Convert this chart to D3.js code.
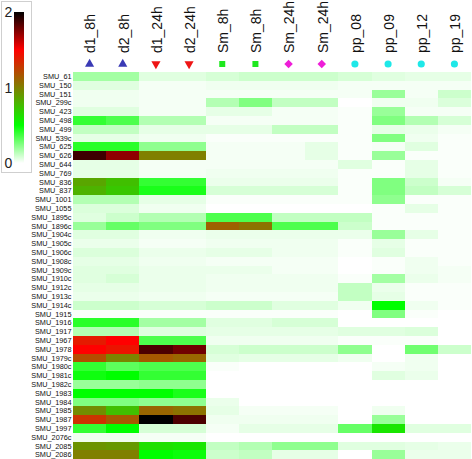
<!DOCTYPE html>
<html>
<head>
<meta charset="utf-8">
<script src="https://cdn.jsdelivr.net/npm/d3@7"></script>
<style>
  html, body { margin: 0; padding: 0; background: #fff; }
  svg { display: block; }
  text { font-family: "Liberation Sans", Arial, sans-serif; }
</style>
</head>
<body>
<svg id="chart" width="472" height="459"></svg>
<script>
// ---- data ----
const columns = ["d1_8h", "d2_8h", "d1_24h", "d2_24h", "Sm_8h", "Sm_8h", "Sm_24h", "Sm_24h", "pp_08", "pp_09", "pp_12", "pp_19"];
const groups = ["d8", "d8", "d24", "d24", "sm8", "sm8", "sm24", "sm24", "pp", "pp", "pp", "pp"];
const rows = ["SMU_61", "SMU_150", "SMU_151", "SMU_299c", "SMU_423", "SMU_498", "SMU_499", "SMU_539c", "SMU_625", "SMU_626",
  "SMU_644", "SMU_769", "SMU_836", "SMU_837", "SMU_1001", "SMU_1055", "SMU_1895c", "SMU_1896c", "SMU_1904c", "SMU_1905c",
  "SMU_1906c", "SMU_1908c", "SMU_1909c", "SMU_1910c", "SMU_1912c", "SMU_1913c", "SMU_1914c", "SMU_1915", "SMU_1916", "SMU_1917",
  "SMU_1967", "SMU_1978", "SMU_1979c", "SMU_1980c", "SMU_1981c", "SMU_1982c", "SMU_1983", "SMU_1984", "SMU_1985", "SMU_1987",
  "SMU_1997", "SMU_2076c", "SMU_2085", "SMU_2086"];
// one row of 12 values per gene, in column order
const values = [
  [0.18, 0.18, 0.06, 0.06, 0.08, 0.10, 0.10, 0.10, 0.08, 0.06, 0.05, 0.05],
  [0.06, 0.06, 0.02, 0.02, 0.03, 0.03, 0.03, 0.03, 0.02, 0.02, 0.02, 0.02],
  [0.03, 0.03, 0.02, 0.02, 0.02, 0.02, 0.02, 0.02, 0.02, 0.20, 0.02, 0.10],
  [0.03, 0.03, 0.02, 0.02, 0.15, 0.25, 0.12, 0.12, 0.00, 0.03, 0.03, 0.07],
  [0.06, 0.06, 0.02, 0.02, 0.05, 0.05, 0.02, 0.02, 0.01, 0.20, 0.02, 0.02],
  [0.40, 0.35, 0.15, 0.15, 0.02, 0.02, 0.02, 0.02, 0.01, 0.25, 0.15, 0.08],
  [0.12, 0.12, 0.05, 0.05, 0.05, 0.05, 0.12, 0.12, 0.01, 0.05, 0.04, 0.02],
  [0.05, 0.05, 0.03, 0.03, 0.01, 0.01, 0.01, 0.01, 0.01, 0.25, 0.03, 0.01],
  [0.42, 0.42, 0.22, 0.22, 0.02, 0.02, 0.02, 0.05, 0.01, 0.02, 0.06, 0.01],
  [1.88, 1.72, 1.00, 1.00, 0.02, 0.02, 0.02, 0.05, 0.01, 0.20, 0.01, 0.01],
  [0.05, 0.05, 0.02, 0.02, 0.02, 0.02, 0.02, 0.02, 0.06, 0.01, 0.05, 0.01],
  [0.05, 0.05, 0.02, 0.02, 0.03, 0.03, 0.03, 0.03, 0.01, 0.01, 0.05, 0.01],
  [0.85, 0.75, 0.40, 0.40, 0.04, 0.04, 0.04, 0.04, 0.01, 0.25, 0.10, 0.02],
  [0.80, 0.72, 0.45, 0.45, 0.08, 0.08, 0.08, 0.08, 0.01, 0.25, 0.12, 0.08],
  [0.15, 0.15, 0.05, 0.05, 0.01, 0.01, 0.01, 0.01, 0.01, 0.22, 0.01, 0.01],
  [0.07, 0.07, 0.03, 0.03, 0.00, 0.00, 0.00, 0.00, 0.00, 0.01, 0.05, 0.01],
  [0.06, 0.10, 0.15, 0.15, 0.35, 0.35, 0.12, 0.12, 0.12, 0.01, 0.01, 0.01],
  [0.20, 0.30, 0.25, 0.25, 1.12, 1.05, 0.35, 0.35, 0.10, 0.01, 0.01, 0.01],
  [0.06, 0.06, 0.03, 0.03, 0.04, 0.04, 0.04, 0.04, 0.04, 0.20, 0.05, 0.01],
  [0.04, 0.04, 0.02, 0.02, 0.03, 0.03, 0.03, 0.03, 0.01, 0.05, 0.01, 0.01],
  [0.07, 0.07, 0.04, 0.04, 0.05, 0.05, 0.03, 0.03, 0.01, 0.06, 0.01, 0.01],
  [0.05, 0.05, 0.03, 0.03, 0.02, 0.02, 0.02, 0.02, 0.00, 0.01, 0.03, 0.01],
  [0.06, 0.06, 0.04, 0.04, 0.04, 0.04, 0.02, 0.02, 0.00, 0.01, 0.03, 0.02],
  [0.06, 0.08, 0.04, 0.04, 0.03, 0.03, 0.03, 0.03, 0.01, 0.18, 0.04, 0.02],
  [0.05, 0.05, 0.04, 0.04, 0.03, 0.03, 0.03, 0.03, 0.12, 0.04, 0.01, 0.01],
  [0.04, 0.04, 0.03, 0.03, 0.02, 0.02, 0.02, 0.02, 0.12, 0.05, 0.01, 0.01],
  [0.10, 0.10, 0.08, 0.08, 0.10, 0.10, 0.06, 0.06, 0.03, 0.50, 0.03, 0.01],
  [0.01, 0.01, 0.01, 0.01, 0.01, 0.01, 0.01, 0.01, 0.00, 0.25, 0.01, 0.00],
  [0.42, 0.42, 0.18, 0.18, 0.06, 0.06, 0.08, 0.08, 0.00, 0.00, 0.00, 0.00],
  [0.15, 0.15, 0.06, 0.06, 0.05, 0.05, 0.05, 0.05, 0.06, 0.06, 0.07, 0.00],
  [1.40, 1.50, 0.35, 0.35, 0.03, 0.03, 0.03, 0.03, 0.01, 0.01, 0.01, 0.00],
  [1.50, 1.42, 1.85, 1.78, 0.08, 0.10, 0.10, 0.10, 0.22, 0.00, 0.28, 0.10],
  [1.20, 0.98, 1.15, 1.10, 0.06, 0.05, 0.05, 0.05, 0.03, 0.00, 0.03, 0.00],
  [0.40, 0.32, 0.35, 0.35, 0.01, 0.00, 0.00, 0.00, 0.00, 0.02, 0.03, 0.00],
  [0.47, 0.50, 0.40, 0.40, 0.00, 0.00, 0.00, 0.00, 0.00, 0.06, 0.04, 0.00],
  [0.20, 0.20, 0.22, 0.22, 0.00, 0.00, 0.00, 0.00, 0.00, 0.00, 0.00, 0.00],
  [0.50, 0.50, 0.50, 0.45, 0.00, 0.00, 0.00, 0.00, 0.00, 0.00, 0.00, 0.00],
  [0.25, 0.25, 0.22, 0.22, 0.04, 0.00, 0.00, 0.00, 0.00, 0.00, 0.00, 0.00],
  [0.95, 0.75, 1.10, 1.05, 0.05, 0.02, 0.02, 0.02, 0.00, 0.03, 0.00, 0.00],
  [1.30, 1.15, 2.00, 1.85, 0.03, 0.03, 0.03, 0.03, 0.00, 0.20, 0.00, 0.00],
  [0.40, 0.50, 0.08, 0.08, 0.02, 0.05, 0.05, 0.05, 0.30, 0.60, 0.06, 0.06],
  [0.03, 0.03, 0.02, 0.02, 0.00, 0.00, 0.00, 0.00, 0.00, 0.00, 0.00, 0.00],
  [0.92, 0.90, 0.62, 0.60, 0.12, 0.15, 0.22, 0.22, 0.06, 0.06, 0.05, 0.04],
  [1.00, 1.00, 0.50, 0.48, 0.10, 0.12, 0.05, 0.05, 0.00, 0.20, 0.04, 0.04]
];
const legendTicks = [0, 1, 2];
const colorStops = [0, 0.5, 1.5, 2];
const colorRange = ["#ffffff", "#00ff00", "#ff0000", "#000000"];

// ---- drawing ----
const svg = d3.select("#chart");
const color = d3.scaleLinear().domain(colorStops).range(colorRange).interpolate(d3.interpolateRgb).clamp(true);

const x = d3.scaleBand().domain(d3.range(columns.length)).range([73, 471]).padding(0);
const y = d3.scaleBand().domain(rows).range([72, 459.2]).padding(0);

// cells
const cells = [];
values.forEach((r, i) => r.forEach((v, j) => cells.push({ row: rows[i], col: j, v })));
svg.append("g").selectAll("rect").data(cells).join("rect")
  .attr("x", d => x(d.col))
  .attr("y", d => y(d.row))
  .attr("width", x.bandwidth() + 0.3)
  .attr("height", y.bandwidth() + 0.3)
  .attr("fill", d => color(d.v))
  .attr("shape-rendering", "crispEdges");

// row labels
svg.append("g").selectAll("text").data(rows).join("text")
  .attr("x", 71.5)
  .attr("y", d => y(d) + y.bandwidth() / 2)
  .attr("dy", "0.35em")
  .attr("text-anchor", "end")
  .attr("font-size", 7.3)
  .attr("fill", "#111")
  .text(d => d);

// column labels
svg.append("g").selectAll("text").data(columns).join("text")
  .attr("transform", (d, i) => `translate(${x(i) + x.bandwidth() / 2 + 1},53) rotate(-90)`)
  .attr("dy", "0.35em")
  .attr("text-anchor", "start")
  .attr("font-size", 14)
  .attr("fill", "#111")
  .text(d => d);

// group markers
const markerStyle = {
  d8:   { type: d3.symbolTriangle, rot: 0,   fill: "#3a3ab5" },
  d24:  { type: d3.symbolTriangle, rot: 180, fill: "#ee1515" },
  sm8:  { type: d3.symbolSquare,   rot: 0,   fill: "#1ee81e" },
  sm24: { type: d3.symbolSquare,   rot: 45,  fill: "#ee1ed8" },
  pp:   { type: d3.symbolCircle,   rot: 0,   fill: "#1ee8e8" }
};
svg.append("g").selectAll("path").data(groups).join("path")
  .attr("transform", (g, i) => `translate(${x(i) + x.bandwidth() / 2},64) rotate(${markerStyle[g].rot})`)
  .attr("d", g => d3.symbol().type(markerStyle[g].type).size(g === "pp" ? 40 : 36)())
  .attr("fill", g => markerStyle[g].fill);

// legend
const ly = d3.scaleLinear().domain([0, 2]).range([163, 12]);
const defs = svg.append("defs");
const grad = defs.append("linearGradient").attr("id", "lg")
  .attr("x1", 0).attr("y1", 1).attr("x2", 0).attr("y2", 0);
d3.range(0, 2.0001, 0.1).forEach(v => {
  grad.append("stop").attr("offset", v / 2).attr("stop-color", color(v));
});
svg.append("rect").attr("x", 1.5).attr("y", 1.5).attr("width", 30).attr("height", 171)
  .attr("fill", "#fff").attr("stroke", "#cfcfcf").attr("stroke-width", 1);
svg.append("rect").attr("x", 14).attr("y", ly(2)).attr("width", 10).attr("height", ly(0) - ly(2))
  .attr("fill", "url(#lg)");
svg.append("g").selectAll("text").data(legendTicks).join("text")
  .attr("x", 8.5)
  .attr("y", d => ly(d))
  .attr("dy", "0.36em")
  .attr("text-anchor", "middle")
  .attr("font-size", 14)
  .attr("fill", "#222")
  .text(d => d);
</script>
</body>
</html>
